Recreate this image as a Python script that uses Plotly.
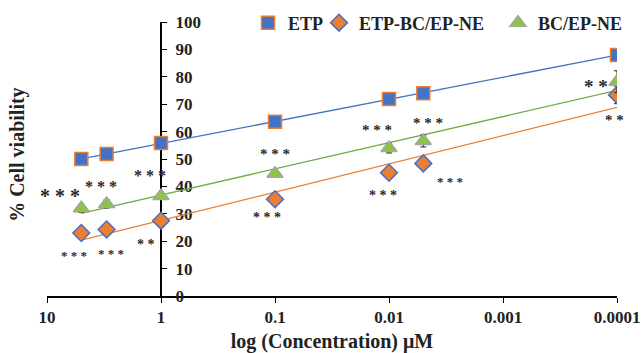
import numpy as np
import plotly.graph_objects as go

conc = [5, 3, 1, 0.1, 0.01, 0.005, 0.0001]
etp = [50.0, 51.8, 55.8, 63.6, 71.9, 74.0, 88.0]
etp_err = [1.0, 1.0, 1.0, 1.0, 1.2, 1.0, 1.0]
etp_ne = [23.0, 24.3, 27.5, 35.3, 45.0, 48.4, 73.4]
etp_ne_err = [1.0, 1.0, 1.0, 1.2, 1.8, 2.0, 3.2]
bc_ne = [32.0, 33.6, 36.5, 44.6, 54.0, 56.6, 78.2]
bc_ne_err = [1.5, 1.5, 1.2, 1.2, 1.8, 2.2, 4.0]

x_ticks = [10, 1, 0.1, 0.01, 0.001, 0.0001]
x_tick_text = ["10", "1", "0.1", "0.01", "0.001", "0.0001"]
y_ticks = list(range(0, 101, 10))

# significance labels: (concentration, value, text, size)
sig_conc = [7.7, 3.33, 1.25, 0.1, 0.0128, 0.00455, 0.000154, 0.000106,
            5.74, 2.72, 1.35, 0.118, 0.0112, 0.00294]
sig_val = [37.6, 40.9, 45.0, 52.6, 61.3, 63.9, 77.7, 65.0,
           15.7, 16.4, 19.5, 29.3, 37.5, 42.7]
sig_text = ["* * *", "* * *", "* * *", "* * *", "* * *", "* * *", "* *", "* *",
            "* * *", "* * *", "* *", "* * *", "* * *", "* * *"]
sig_size = [20, 16, 16, 15, 15, 15, 19, 15, 13, 13, 14, 14, 14, 13]

BLUE = "#4472C4"
ORANGE = "#ED7D31"
GREEN = "#70AD47"
LGREEN = "#8CC63F"
GRAY = "#A5A5A5"
FONT = "Liberation Serif"

fig = go.Figure()

lx = np.log10(np.array(conc))
fit_x = np.array([conc[0], conc[-1]])
for vals, col in [(etp, BLUE), (etp_ne, ORANGE), (bc_ne, GREEN)]:
    a, b = np.polyfit(lx, np.array(vals), 1)
    fig.add_trace(go.Scatter(x=fit_x, y=a * np.log10(fit_x) + b, mode="lines",
                             line=dict(color=col, width=1.3), showlegend=False,
                             hoverinfo="skip"))

fig.add_trace(go.Scatter(
    x=conc, y=etp, mode="markers", name="ETP", legend="legend",
    error_y=dict(type="data", array=etp_err, color="#222", thickness=1, width=3),
    marker=dict(symbol="square", size=13, color=BLUE, line=dict(color=ORANGE, width=1.5))))
fig.add_trace(go.Scatter(
    x=conc, y=etp_ne, mode="markers", name="ETP-BC/EP-NE", legend="legend2",
    error_y=dict(type="data", array=etp_ne_err, color="#222", thickness=1, width=3),
    marker=dict(symbol="diamond", size=13, color=ORANGE, line=dict(color=BLUE, width=1.5))))
fig.add_trace(go.Scatter(
    x=conc, y=bc_ne, mode="markers", name="BC/EP-NE", legend="legend3",
    error_y=dict(type="data", array=bc_ne_err, color="#222", thickness=1, width=3),
    marker=dict(symbol="triangle-up", size=14, color=LGREEN, line=dict(color=GRAY, width=1.5))))

for c, v, t, s in zip(sig_conc, sig_val, sig_text, sig_size):
    fig.add_annotation(x=np.log10(c), y=v - 0.08 * s / 2.74 * 2, text=t, showarrow=False,
                       font=dict(family=FONT, size=s, color="#2a2a2a", weight="bold"))

fig.add_annotation(xref="paper", yref="paper", x=-0.051, y=0.515, xanchor="center",
                   yanchor="middle", text="<b>% Cell viability</b>", textangle=-90,
                   showarrow=False, font=dict(family=FONT, size=20, color="#222"))

leg_common = dict(orientation="h", xref="container", yref="container", y=0.935,
                  xanchor="left", yanchor="middle", bgcolor="rgba(0,0,0,0)",
                  font=dict(family=FONT, size=18, color="#222", weight="bold"),
                  itemwidth=30)

fig.update_layout(
    width=643, height=353,
    margin=dict(l=47, r=26, t=22, b=57, autoexpand=False),
    paper_bgcolor="white", plot_bgcolor="white",
    font=dict(family=FONT, size=15, color="#222"),
    legend=dict(x=248 / 643, **leg_common),
    legend2=dict(x=319 / 643, **leg_common),
    legend3=dict(x=498 / 643, **leg_common),
)
fig.update_xaxes(type="log", range=[1, -4], tickvals=x_ticks, ticktext=x_tick_text,
                 showgrid=False, zeroline=False, showline=True, linecolor="black",
                 linewidth=2, ticks="outside", ticklen=5, tickcolor="black",
                 tickfont=dict(family=FONT, size=17, weight="bold"),
                 title=dict(text="<b>log (Concentration) μM</b>",
                            font=dict(family=FONT, size=20), standoff=10),
                 layer="below traces")
fig.update_yaxes(range=[0, 100], tickvals=y_ticks, showgrid=False, zeroline=False,
                 showline=True, linecolor="black", linewidth=2, ticks="outside",
                 ticklen=5, tickcolor="black", anchor="free", position=0.2, side="right",
                 ticklabelstandoff=5,
                 tickfont=dict(family=FONT, size=17, weight="bold"),
                 layer="below traces")

fig.write_html("out.html")
